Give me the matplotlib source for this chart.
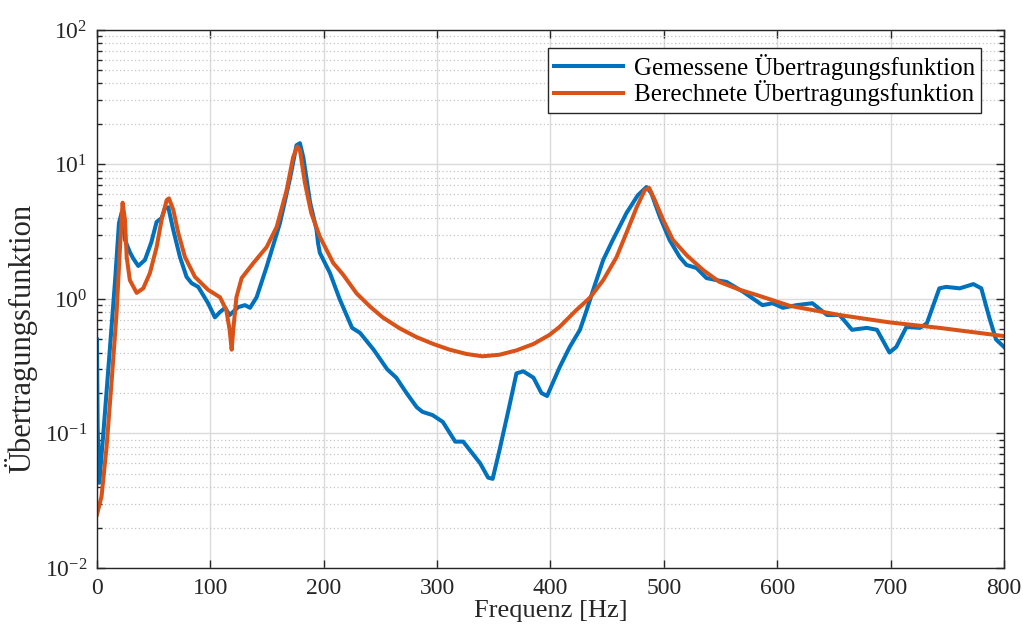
import numpy as np
from matplotlib import pyplot as plt
from matplotlib.ticker import LogLocator, LogFormatterSciNotation, NullFormatter

################################################################################
# Gemessene und berechnete Übertragungsfunktion
################################################################################

# gemessen (Frequenz [Hz], Betrag)
f_mess = [0, 0.6, 2, 5.6, 11.5, 16, 19.4, 21.8, 24.7, 29, 32, 36.4, 42.3, 48, 52.6,
          57, 60, 62.9, 67.3, 73.2, 79, 83.5, 89.3, 98, 104, 108.5, 113, 117, 124.6,
          130.5, 135, 140.8, 149.6, 161.4, 170, 176, 179, 182, 188, 193.7, 195, 196.6,
          205.5, 214, 225, 232, 244, 256, 264, 273, 282, 287, 296, 305, 316, 323,
          329, 338, 345, 349, 355, 363, 370, 376, 385, 392, 397, 408, 417, 426, 432,
          437.7, 446.5, 455, 467, 477, 484.7, 489, 496.5, 505, 514, 520, 528.8, 537.6,
          546.5, 555.3, 570, 587, 596, 605, 617, 631, 644, 655, 666, 679, 688, 699,
          705, 714, 726, 732, 743, 749, 761, 773, 780, 787, 793, 800]
H_mess = [0.5, 0.11, 0.043, 0.1, 0.44, 1.38, 3.67, 4.4, 2.75, 2.23, 2.0, 1.76, 1.95,
          2.65, 3.74, 4.0, 4.75, 4.8, 3.26, 2.05, 1.46, 1.31, 1.23, 0.93, 0.73, 0.8,
          0.86, 0.76, 0.87, 0.9, 0.86, 1.03, 1.73, 3.67, 7.7, 13.9, 14.4, 11.3, 5.2,
          3.26, 2.6, 2.2, 1.56, 1.0, 0.61, 0.56, 0.42, 0.30, 0.26, 0.20, 0.157, 0.145,
          0.137, 0.122, 0.087, 0.087, 0.075, 0.06, 0.047, 0.046, 0.075, 0.15, 0.28,
          0.29, 0.26, 0.20, 0.19, 0.31, 0.44, 0.59, 0.83, 1.17, 1.95, 2.75, 4.35, 5.9,
          6.8, 6.1, 4.07, 2.75, 2.05, 1.79, 1.7, 1.43, 1.38, 1.34, 1.13, 0.90, 0.93,
          0.86, 0.90, 0.93, 0.76, 0.76, 0.59, 0.61, 0.59, 0.40, 0.44, 0.62, 0.61,
          0.66, 1.2, 1.23, 1.2, 1.29, 1.2, 0.73, 0.5, 0.44]

# berechnet (Frequenz [Hz], Betrag)
f_ber = [0, 4, 8.5, 13, 17.3, 20.3, 22.6, 24.7, 26.2, 29, 35, 40.8, 46.7, 52.6, 57,
         61.5, 63.5, 67.3, 71.7, 77.6, 86.4, 98, 108.5, 114, 117, 118.8, 120.2, 123,
         127.6, 137.9, 149.6, 158.5, 167.3, 173, 176.6, 179, 183.4, 189, 196.6,
         208.4, 217, 229, 241, 252, 267, 282, 296.6, 311, 326, 340, 355, 370, 385,
         399, 408, 423, 434.7, 446.5, 458.3, 467, 476, 483.2, 487, 492, 499.4, 508,
         520, 534.7, 549, 567, 582, 611, 655, 699, 743, 800]
H_ber = [0.025, 0.034, 0.08, 0.25, 0.79, 2.43, 5.2, 3.87, 2.05, 1.38, 1.11, 1.2, 1.56,
         2.43, 3.87, 5.44, 5.6, 4.6, 3.1, 2.05, 1.46, 1.17, 1.03, 0.83, 0.59, 0.42,
         0.59, 1.03, 1.43, 1.85, 2.43, 3.43, 6.45, 11.3, 13.6, 12.8, 7.3, 4.35, 2.9,
         1.85, 1.52, 1.1, 0.876, 0.73, 0.605, 0.52, 0.463, 0.42, 0.39, 0.375, 0.385,
         0.415, 0.463, 0.54, 0.62, 0.83, 1.02, 1.38, 2.05, 3.1, 4.8, 6.45, 6.7, 5.44,
         3.87, 2.75, 2.12, 1.64, 1.34, 1.17, 1.07, 0.89, 0.76, 0.67, 0.61, 0.53]

plt.rcParams["font.family"] = ["Liberation Serif", "DejaVu Serif"]
plt.rcParams["mathtext.fontset"] = "stix"

fig = plt.figure(1, figsize=(10.23, 6.35), dpi=100)
ax = fig.add_axes([0.0948, 0.1055, 0.8866, 0.8473])

ax.semilogy(f_mess, H_mess, color="#0072BD", linewidth=2.9, label="Gemessene Übertragungsfunktion")
ax.semilogy(f_ber, H_ber, color="#D95319", linewidth=2.9, label="Berechnete Übertragungsfunktion")

ax.set_xlim(0, 800)
ax.set_ylim(1e-2, 1e2)
ax.set_xticks(np.arange(0, 801, 100))
ax.yaxis.set_major_locator(LogLocator(base=10, numticks=10))
ax.yaxis.set_minor_locator(LogLocator(base=10, subs=np.arange(2, 10), numticks=10))
ax.yaxis.set_major_formatter(LogFormatterSciNotation())
ax.yaxis.set_minor_formatter(NullFormatter())

ax.grid(True, which="major", color="#dadada", linewidth=1.0, linestyle="-")
ax.grid(True, which="minor", axis="y", color="#c4c4c4", linewidth=0.9, linestyle=(0, (1, 2)))
ax.set_axisbelow(True)

ax.tick_params(which="both", direction="in", top=True, right=True, labelsize=17, colors="#262626")
ax.tick_params(which="major", length=6, width=1.0)
ax.tick_params(which="minor", length=3.5, width=1.0)
ax.tick_params(axis="x", pad=7)
ax.tick_params(axis="y", pad=7)
for s in ax.spines.values():
    s.set_color("#262626")
    s.set_linewidth(1.0)

ax.set_xlabel("Frequenz [Hz]", fontsize=19, color="#262626", labelpad=1)
ax.set_ylabel("Übertragungsfunktion", fontsize=22, color="#262626")
ax.yaxis.set_label_coords(-0.066, 0.4275)

leg = ax.legend(loc="upper right", bbox_to_anchor=(0.975, 0.967), borderaxespad=0,
                fontsize=18, fancybox=False, framealpha=1, edgecolor="#262626",
                handlelength=2.75, borderpad=0.25, labelspacing=0.02, handletextpad=0.45)
leg.get_frame().set_linewidth(1.0)

plt.savefig("out.png", dpi=100)
